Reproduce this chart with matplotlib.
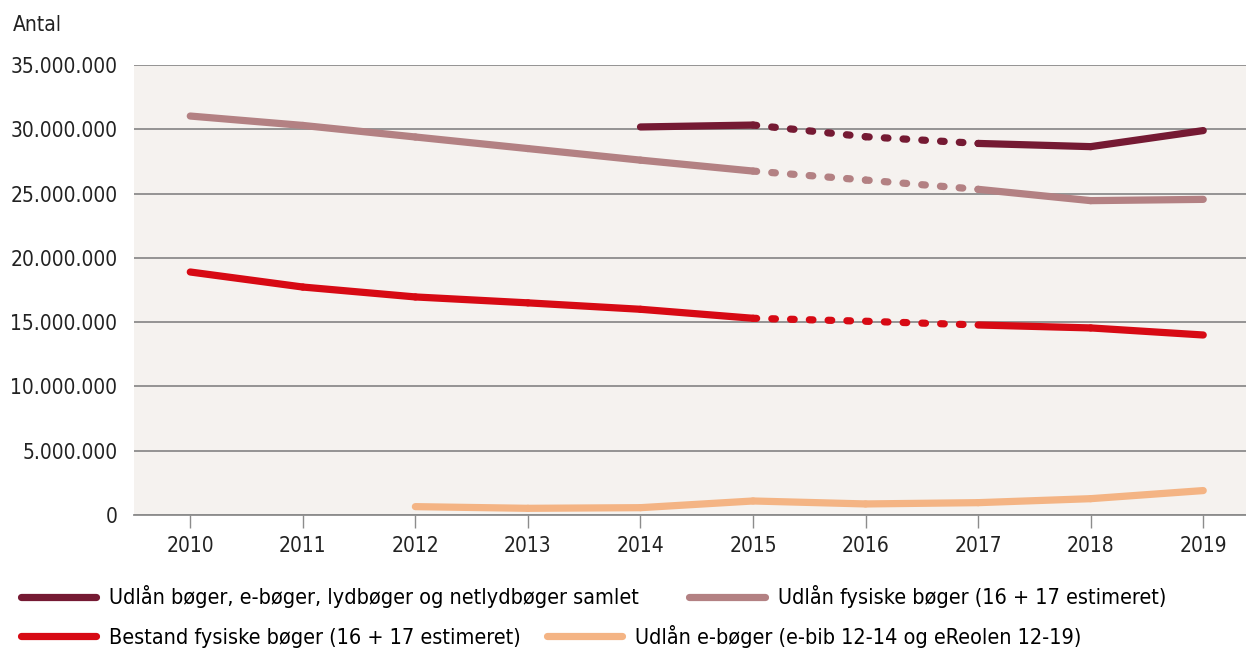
import matplotlib.pyplot as plt
from matplotlib.lines import Line2D
from matplotlib.ticker import FuncFormatter

plt.rcParams['font.family'] = ['DejaVu Sans']
plt.rcParams['font.stretch'] = 'condensed'

years = [2010, 2011, 2012, 2013, 2014, 2015, 2016, 2017, 2018, 2019]

# values in millions; None = no data
samlet = [None, None, None, None, 30.18, 30.33, 29.42, 28.90, 28.65, 29.90]
fysiske_udlaan = [31.03, 30.30, 29.40, 28.50, 27.60, 26.75, 26.05, 25.33, 24.45, 24.55]
bestand = [18.90, 17.73, 16.96, 16.50, 16.00, 15.30, 15.07, 14.78, 14.55, 14.00]
eboeger = [None, None, 0.65, 0.52, 0.57, 1.09, 0.86, 0.96, 1.27, 1.90]

labels = [
    "Udlån bøger, e-bøger, lydbøger og netlydbøger samlet",
    "Udlån fysiske bøger (16 + 17 estimeret)",
    "Bestand fysiske bøger (16 + 17 estimeret)",
    "Udlån e-bøger (e-bib 12-14 og eReolen 12-19)",
]
colors = ["#751a33", "#b38183", "#d70a14", "#f4b484"]

fig = plt.figure(figsize=(12.46, 6.49), dpi=100)
ax = fig.add_axes([134 / 1246, 1 - 515 / 649, 1 - 134 / 1246, 450 / 649])
ax.set_facecolor("#f5f2ef")

LW = 5.2
FS = 15
LFS = 15.5


def draw(vals, color, dotted):
    pts = [(y, v * 1e6) for y, v in zip(years, vals) if v is not None]
    for (x0, y0), (x1, y1) in zip(pts[:-1], pts[1:]):
        style = dict(color=color, lw=LW, solid_capstyle="round", dash_capstyle="round", zorder=3)
        if dotted and x0 >= 2015 and x1 <= 2017:
            line, = ax.plot([x0, x1], [y0, y1], **style)
            line.set_dashes((0.5, 2.1))
        else:
            ax.plot([x0, x1], [y0, y1], solid_joinstyle="round", **style)


draw(samlet, colors[0], True)
draw(fysiske_udlaan, colors[1], True)
draw(bestand, colors[2], True)
draw(eboeger, colors[3], False)

ax.set_xlim(2009.5, 2019.38)
ax.set_ylim(0, 35e6)
ax.set_yticks([i * 5e6 for i in range(8)])
ax.yaxis.set_major_formatter(FuncFormatter(lambda v, p: f"{int(v):,}".replace(",", ".")))
ax.set_xticks(years)
ax.grid(axis="y", color="#8c8c8c", lw=1.3, zorder=1)
ax.set_axisbelow(True)
for s in ["top", "right", "left"]:
    ax.spines[s].set_visible(False)
ax.spines["bottom"].set_color("#8c8c8c")
ax.spines["bottom"].set_linewidth(1.3)
ax.tick_params(axis="y", length=0, pad=12, labelsize=FS, labelcolor="#222222")
ax.tick_params(axis="x", length=9, width=1, color="#8c8c8c", pad=6, labelsize=FS, labelcolor="#222222")

fig.text(13 / 1246, 1 - 25 / 649, "Antal", fontsize=FS, va="center", ha="left", color="#222222")

handles = [Line2D([0], [0], color=c, lw=LW, solid_capstyle="round") for c in colors]
leg1 = fig.legend(handles[:2], labels[:2], ncol=2, loc="center left",
                  bbox_to_anchor=(0.008, 1 - 597 / 649), frameon=False, fontsize=LFS,
                  handlelength=3.5, handletextpad=0.6, columnspacing=2.35, borderpad=0)
leg2 = fig.legend(handles[2:], labels[2:], ncol=2, loc="center left",
                  bbox_to_anchor=(0.008, 1 - 636 / 649), frameon=False, fontsize=LFS,
                  handlelength=3.5, handletextpad=0.6, columnspacing=1.2, borderpad=0)

fig.savefig("out.png", dpi=100)
